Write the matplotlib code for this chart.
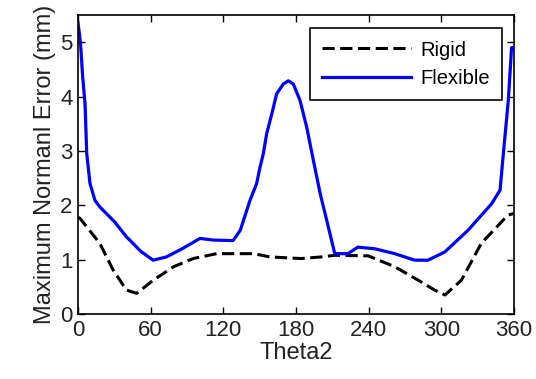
import numpy as np
import matplotlib.pyplot as plt

plt.rcParams['font.family'] = ['Liberation Sans', 'DejaVu Sans']

# ----- Data -----
theta_flex = [0, 2, 3.9, 5.8, 7.2, 9.9, 14, 18, 30, 40, 52, 62, 73, 86,
              100.7, 111.7, 128, 134, 142, 147.5, 150.3, 153, 155.8, 160,
              164, 169.5, 173.7, 177.8, 183.3, 188.8, 194.3, 200, 205.4,
              212, 223, 231, 245, 261.5, 278, 289, 302.8, 322, 341.6,
              348.5, 351.2, 355.3, 358, 360]
flexible = [5.36, 5.0, 4.35, 3.87, 2.95, 2.40, 2.09, 1.97, 1.7, 1.42, 1.15,
            0.99, 1.05, 1.2, 1.39, 1.36, 1.35, 1.54, 2.09, 2.40, 2.70, 2.95,
            3.32, 3.68, 4.05, 4.23, 4.29, 4.23, 3.93, 3.44, 2.83, 2.21, 1.72,
            1.11, 1.11, 1.23, 1.2, 1.11, 0.99, 0.99, 1.14, 1.54, 2.03, 2.28,
            2.95, 3.93, 4.9, 4.9]

theta_rigid = [0, 1.6, 18, 29, 40, 48.5, 62, 79, 95, 114.5, 145, 158.5,
               184, 201, 212, 239.5, 261.5, 281, 294.5, 303, 316.5, 333,
               355, 360]
rigid = [1.78, 1.76, 1.30, 0.81, 0.44, 0.38, 0.62, 0.87, 1.02, 1.11, 1.11,
         1.05, 1.02, 1.05, 1.08, 1.07, 0.87, 0.62, 0.44, 0.35, 0.62, 1.30,
         1.82, 1.85]

xticks = [0, 60, 120, 180, 240, 300, 360]
yticks = [0, 1, 2, 3, 4, 5]

# ----- Plot -----
fig = plt.figure(figsize=(5.36, 3.79), dpi=100)
ax = fig.add_axes([78 / 536, 1 - 314 / 379, 436 / 536, 299 / 379])

ax.plot(theta_rigid, rigid, 'k--', lw=2.2, dashes=(4, 1.8), label='Rigid')
ax.plot(theta_flex, flexible, color='#0000ff', lw=2.3, label='Flexible')

ax.set_xlim(0, 360)
ax.set_ylim(0, 5.5)
ax.set_xticks(xticks)
ax.set_yticks(yticks)
ax.tick_params(direction='in', top=True, right=True, length=5,
               labelsize=16, width=1, pad=4, labelcolor='#222222')
for s in ax.spines.values():
    s.set_linewidth(1.2)

ax.set_xlabel('Theta2', fontsize=17, labelpad=1, color='#222222')
ax.set_ylabel('Maximum Normanl Error (mm)', fontsize=17, labelpad=3,
              color='#222222')

leg = ax.legend(loc='upper right', fontsize=14.5, fancybox=False,
                framealpha=1, edgecolor='black', handlelength=4.4,
                handletextpad=0.45, borderpad=0.6, labelspacing=0.45,
                borderaxespad=0, bbox_to_anchor=(0.972, 0.955))
leg.get_frame().set_linewidth(1.2)

plt.savefig('out.png', dpi=100)
